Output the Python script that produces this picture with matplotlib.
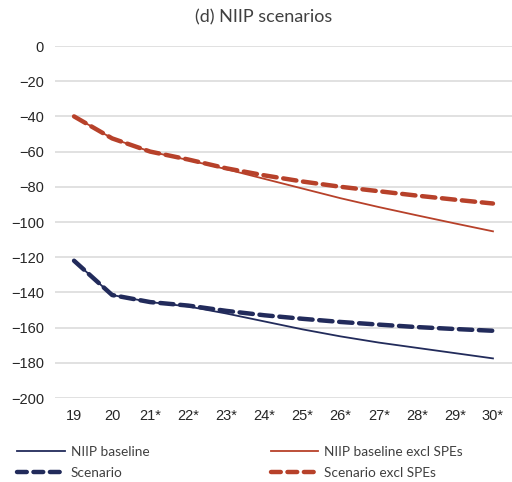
import matplotlib.pyplot as plt
from matplotlib.lines import Line2D

years = ["19", "20", "21*", "22*", "23*", "24*", "25*", "26*", "27*", "28*", "29*", "30*"]
niip_baseline = [-122, -141.5, -145.5, -148, -152, -156.5, -161, -165, -168.5, -171.5, -174.5, -177.5]
scenario = [-122, -141.5, -145.5, -147.5, -150.5, -153, -155, -156.8, -158.3, -159.7, -160.8, -161.8]
niip_excl_spe = [-40, -52.5, -60, -64.8, -70, -75.5, -81, -86.5, -91.5, -96.2, -100.8, -105.3]
scenario_excl_spe = [-40, -52.5, -60, -64.5, -69.5, -73.5, -77, -80, -82.5, -85, -87.3, -89.5]

navy = "#222b5b"
red = "#b7412a"
dash = (0, (3.0, 1.5))

fig = plt.figure(figsize=(5.12, 4.82), dpi=100)
ax = fig.add_axes([55 / 512, 1 - 398 / 482, 457 / 512, 352 / 482])

x = range(len(years))
ax.plot(x, niip_baseline, color=navy, lw=1.3, label="NIIP baseline")
ax.plot(x, niip_excl_spe, color=red, lw=1.3, label="NIIP baseline excl SPEs")
ax.plot(x, scenario, color=navy, lw=3.2, linestyle=dash, dash_capstyle="round",
        label="Scenario")
ax.plot(x, scenario_excl_spe, color=red, lw=3.2, linestyle=dash, dash_capstyle="round",
        label="Scenario excl SPEs")

ax.set_xlim(-0.5, len(years) - 0.5)
ax.set_ylim(-200, 0)
ax.set_yticks(range(-200, 1, 20))
ax.set_xticks(list(x))
ax.set_xticklabels(years)
ax.tick_params(length=0, labelsize=10.5, labelcolor="#262626", labelfontfamily="Liberation Sans")
ax.tick_params(axis="y", pad=8)
ax.tick_params(axis="x", pad=8)
ax.grid(axis="y", color="#d9d9d9", lw=1.1)
ax.set_axisbelow(True)
for s in ax.spines.values():
    s.set_visible(False)

fig.text(264 / 512, 1 - 17 / 482, "(d) NIIP scenarios", ha="center", va="center",
         fontsize=13, color="#404040", family="Lato")

leg_dash = (0, (2.2, 1.5))
handles = [
    Line2D([], [], color=navy, lw=1.3),
    Line2D([], [], color=navy, lw=3.2, linestyle=leg_dash, dash_capstyle="round"),
    Line2D([], [], color=red, lw=1.3),
    Line2D([], [], color=red, lw=3.2, linestyle=leg_dash, dash_capstyle="round"),
]
labels = ["NIIP baseline", "Scenario", "NIIP baseline excl SPEs", "Scenario excl SPEs"]
fig.legend(handles, labels, ncol=2, loc="upper left", bbox_to_anchor=(17 / 512, 1 - 446 / 482),
           frameon=False, borderpad=0, borderaxespad=0, handlelength=3.5, handletextpad=0.45,
           columnspacing=8.9, labelspacing=0.65, prop={"family": "Lato", "size": 9.8},
           labelcolor="#404040")

fig.savefig("out.png", dpi=100)
